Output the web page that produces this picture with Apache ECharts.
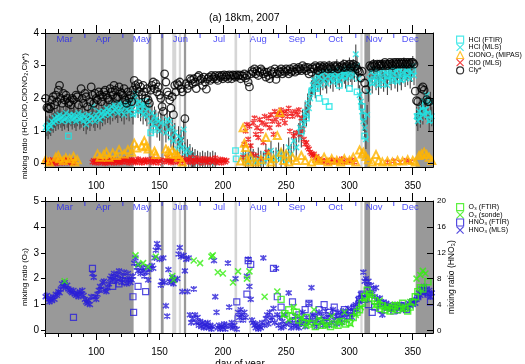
<!DOCTYPE html>
<html><head><meta charset="utf-8">
<script src="https://cdn.jsdelivr.net/npm/echarts@6/dist/echarts.min.js"></script>
<style>html,body{margin:0;padding:0;background:#fff}#c{width:525px;height:364px}</style>
</head><body><div id="c"></div>
<script>
// ---------- axis / annotation data ----------
const monthNames = ['Mar','Apr','May','Jun','Jul','Aug','Sep','Oct','Nov','Dec'];
const monthStarts = [60,91,121,152,182,213,244,274,305,335];
const monthMids = [75,105.5,136,166.5,197,228,258.5,289,319.5,348];
const xMinorTicks = [60,70,80,90,100,110,120,130,140,150,160,170,180,190,200,210,220,230,240,250,260,270,280,290,300,310,320,330,340,350,360];
const xMajorTicks = [100,150,200,250,300,350];
const yTopTicks = [0,1,2,3,4];
const yBotTicks = [0,1,2,3,4,5];
const yHno3Ticks = [0,4,8,12,16,20];
const darkShade = [[59.5,129.5],[141.3,143.5],[151,153.2],[169.2,171],[311.8,316.3],[352.3,366]];
const lightShade = [[160,163.2],[165.2,167],[209.2,211.3],[221,222.2],[308.6,310.4]];
const axisTitles = {top: 'mixing ratio (HCl,ClO,ClONO₂,Cly*)', o3: 'mixing ratio (O₃)', hno3: 'mixing ratio (HNO₃)', x: 'day of year'};

// ---------- top panel data (ppbv) ----------
const clyStar = [[60,2.0],[61,1.72],[62,1.7],[63,1.68],[64,1.75],[65,1.95],[66,2.05],[67,1.8],[68,2.1],[69,1.9],[70,2.25],[71,2.4],[72,2.0],[73,1.85],[74,2.15],[75,1.95],[76,2.1],[77,2.0],[78,1.85],[79,1.9],[80,1.8],[81,2.0],[82,1.95],[84,2.1],[85,2.05],[86,1.8],[88,2.3],[89,2.0],[90,1.85],[91,2.15],[92,2.05],[93,1.75],[95,1.9],[96,2.35],[97,2.1],[98,1.85],[99,2.15],[100,2.0],[101,1.95],[102,2.2],[103,2.1],[104,1.9],[105,2.05],[106,2.2],[107,2.25],[108,2.1],[109,2.0],[110,1.95],[111,2.3],[112,2.2],[113,2.1],[114,2.4],[115,2.25],[116,2.0],[117,2.05],[118,2.35],[119,2.2],[120,2.15],[121,2.1],[122,2.3],[123,1.95],[124,1.85],[125,2.2],[126,2.0],[127,2.1],[128,1.9],[129,2.25],
[130,2.55],[131,2.4],[132,2.3],[133,2.45],[134,2.2],[135,2.35],[136,2.1],[137,2.4],[138,2.2],[139,2.0],[140,2.3],[141,1.95],[142,1.85],[143,2.25],[144,2.4],[145,2.5],[146,2.3],[147,2.45],[148,2.2],[149,2.35],[150,2.1],[151,2.0],[152,1.75],[153,1.6],[154,2.75],[155,2.5],[156,2.2],[157,2.1],[158,1.95],[159,1.7],[160,2.05],[161,1.5],[162,2.4],[163,2.2],[164,2.45],[165,2.4],[166,2.5],[167,2.3],[168,2.2],[170,1.38],[171,2.45],[172,2.3],[173,2.4],[174,2.6],[175,2.55],
[176,2.45],[177,2.6],[178,2.5],[179,2.3],[180,2.65],[181,2.7],[182,2.55],[183,2.6],[184,2.4],[185,2.65],[186,2.5],[187,2.28],[188,2.6],[189,2.65],[190,2.55],[191,2.7],[192,2.6],[193,2.65],[194,2.7],[195,2.6],[196,2.55],[197,2.7],[198,2.65],[199,2.7],[200,2.6],[201,2.72],[202,2.65],[203,2.7],[204,2.6],[205,2.72],[206,2.68],[207,2.6],[208,2.72],[209,2.7],[210,2.65],[211,2.72],[212,2.68],[213,2.72],[214,2.6],[215,2.7],[216,2.68],[217,2.75],[218,2.62],[219,2.7],[220,2.5],[221,2.35],
[222,2.75],[223,2.85],[224,2.8],[225,2.9],[226,2.75],[227,2.85],[228,2.7],[229,2.8],[230,2.9],[231,2.85],[232,2.75],[233,2.8],[234,2.65],[235,2.8],[236,2.7],[237,2.6],[238,2.85],[239,2.75],[240,2.8],[241,2.9],[242,2.58],[243,2.75],[244,2.85],[245,2.8],[246,2.9],[247,2.75],[248,2.85],[249,2.8],[250,2.9],[251,2.85],[252,2.75],[253,2.9],[254,2.8],[255,2.85],[256,2.95],[257,2.8],[258,2.9],[259,2.85],[260,2.95],[261,2.9],[262,2.85],[263,3.0],[264,2.9],[265,2.95],[266,2.85],[267,2.95],[268,2.75],[269,2.9],[270,2.8],[271,2.95],[272,2.9],[273,3.0],[274,2.95],[275,2.85],[276,2.95],[277,3.0],[278,2.9],[279,2.95],[280,3.0],[282,2.95],[283,2.9],[284,3.0],[285,2.95],[286,2.9],[288,3.0],[289,2.95],[290,3.0],[291,2.9],[292,2.95],[294,3.0],[295,2.95],[296,3.05],[297,2.95],[298,3.0],[300,3.05],[301,2.95],[302,3.0],[303,3.05],[304,2.95],[305,3.0],[306,2.9],[307,2.85],[308,2.8],[309,2.62],[310,2.83],[312,2.47],[313,2.27],
[316,3.0],[317,2.95],[318,3.0],[319,3.05],[320,3.0],[321,2.95],[322,3.05],[323,3.0],[324,3.05],[325,3.0],[326,3.05],[327,3.0],[328,3.1],[329,3.05],[330,3.0],[331,3.05],[332,3.1],[333,3.05],[334,3.0],[335,3.1],[336,3.05],[337,3.1],[338,3.05],[339,3.1],[340,3.05],[341,3.1],[342,3.05],[343,3.1],[344,3.05],[345,3.1],[346,3.05],[347,3.1],[348,3.05],[349,3.1],[350,3.1],[351,3.05],[352,2.22],[353,1.93],[354,1.9],[357,2.3],[358,2.35],[359,2.25],[361,1.96],[362,1.9],[363,1.9]];

const hclMls = [[60,1.1],[61,1.15],[62,1.05],[63,1.2],[64,1.15],[65,1.3],[66,1.25],[67,1.4],[68,1.3],[69,1.45],[70,1.35],[71,1.5],[72,1.4],[73,1.3],[74,1.45],[75,1.35],[76,1.55],[77,1.4],[78,1.3],[79,1.5],[80,1.45],[81,1.35],[82,1.5],[83,1.4],[84,1.3],[85,1.45],[86,1.55],[87,1.35],[88,1.4],[89,1.5],[90,1.3],[91,1.45],[92,1.2],[93,1.35],[94,1.5],[95,1.3],[96,1.45],[97,1.75],[98,1.4],[99,1.3],[100,1.5],[101,1.4],[102,1.6],[103,1.35],[104,1.55],[105,1.45],[106,1.6],[107,1.5],[108,1.7],[109,1.55],[110,1.65],[111,1.5],[112,1.75],[113,1.6],[114,1.8],[115,1.65],[116,1.7],[117,1.55],[118,1.85],[119,1.7],[120,1.6],[121,1.8],[122,1.5],[123,1.75],[124,1.65],[125,1.9],[126,1.6],[127,1.8],[128,1.7],[129,1.5],
[130,2.0],[131,2.15],[132,1.85],[133,1.7],[134,1.9],[135,1.6],[136,1.8],[137,1.5],[138,1.75],[139,1.6],[140,1.45],[141,1.7],[143,1.3],[144,1.55],[145,1.2],[146,1.45],[147,1.35],[148,1.1],[149,1.3],[150,1.0],[151,1.25],[154,1.2],[155,0.95],[156,1.35],[157,1.05],[158,1.3],[159,0.8],[160,1.1],[161,0.7],[162,0.95],[164,0.45],[165,0.85],[166,0.6],[167,0.75],[168,0.5],[169,1.05],[170,0.35],[172,0.45],[173,0.2],[174,0.3],[175,0.1],[176,0.2],[177,0.05],[178,0.15],[180,0.1],[182,0.05],[184,0.1],[186,0.05],[188,0.1],[190,0.05],[192,0.1],[194,0.05],
[216,0.25],[218,0.1],[220,0.05],[222,0.3],[224,0.15],[226,0.05],[228,0.2],[230,0.1],[232,0.05],[234,0.3],[236,0.15],[238,0.4],[240,0.1],[242,0.2],[244,0.35],[246,0.15],[248,0.3],[250,0.1],
[252,0.5],[254,0.3],[256,0.7],[258,0.5],[260,0.95],[261,1.1],[262,0.8],[263,1.35],[264,1.2],[265,1.6],[266,1.45],[267,1.85],[268,1.7],[269,2.0],[270,2.25],[271,2.4],[272,2.55],[273,2.3],[274,2.7],[275,2.5],[276,2.65],[277,2.4],[278,2.75],[279,2.55],[280,2.8],[281,2.6],[282,2.45],[283,2.7],[284,2.85],[285,2.6],[286,2.75],[287,2.5],[288,2.8],[289,2.65],[290,2.9],[291,2.7],[292,2.55],[293,2.8],[294,2.65],[295,2.9],[296,2.75],[297,2.6],[298,2.85],[299,2.7],[300,2.95],[301,2.8],[302,2.65],[303,2.9],[304,2.8],[305,3.35],[306,3.0],[307,2.6],[308,2.1],[309,1.9],[310,1.6],[311,1.3],[312,1.1],[313,0.75],[314,1.5],[315,2.2],
[316,2.6],[317,2.8],[318,2.45],[319,2.9],[320,2.7],[321,2.55],[322,2.85],[323,2.4],[324,2.75],[325,2.6],[326,2.9],[327,2.5],[328,2.8],[329,2.65],[330,2.4],[331,2.85],[332,2.7],[333,2.55],[334,2.9],[335,2.75],[336,2.6],[337,2.85],[338,2.5],[339,2.9],[340,2.7],[341,2.55],[342,2.8],[343,2.95],[344,2.65],[345,2.85],[346,2.7],[347,2.9],[348,2.6],[349,2.8],[350,3.0],[351,2.7],
[353,1.45],[354,1.3],[355,1.6],[356,1.4],[357,1.7],[358,1.5],[359,1.9],[360,1.65],[361,2.1],[362,1.55],[363,1.3],[364,1.9],[365,1.45]];
const hclMlsErr = 0.3;

const hclFtir = [[78,0.85],[129,1.55],[134,1.65],[139,1.9],[143,0.95],[145,1.05],[210,0.4],[210.5,0.15],[262,1.0],[266,1.4],[270,2.2],[274,2.3],[276,2.0],[281,1.9],[284,1.75],[288,2.6],[292,2.4],[296,2.7],[300,2.3],[306,2.2],[310,1.75],[311,1.45],[312,0.85],[318,2.5],[322,2.65],[326,2.45],[330,2.7],[334,2.55],[338,2.8],[342,2.6],[346,2.75],[350,2.85],[354,1.45],[358,1.6],[360,1.8],[362,1.5],[364,1.35]];

const clono2Mipas = [[60,0.12],[63,0.05],[68,0.2],[70,0.25],[71,0.15],[74,0.1],[76,0.18],[79,0.15],[82,0.22],[83,0.05],[85,0.12],[101,0.3],[103,0.2],[106,0.28],[108,0.35],[110,0.2],[113,0.33],[116,0.25],[118,0.43],[122,0.3],[125,0.43],[128,0.35],[130,0.63],[132,0.48],[136,0.55],[138,0.7],[139,0.52],[141,0.45],[146,0.38],[147,0.28],[155,0.45],[157,0.38],[158,0.3],[160,0.4],[162,0.3],[164,0.28],[165,0.2],[168,0.05],[214,0.08],[216,1.1],[217,0.63],[218,0.5],[219,0.15],[220,0.05],[222,0.2],[226,0.05],[230,0.12],[234,0.8],[236,0.25],[238,0.05],[240,0.15],[243,0.86],[245,1.57],[246,0.35],[248,0.1],[250,0.3],[252,0.05],[255,0.2],[258,0.1],[262,0.25],[265,0.1],[270,0.05],[274,0.15],[276,0.1],[280,0.2],[283,0.05],[286,0.15],[290,0.1],[293,0.05],[296,0.15],[300,0.1],[303,0.2],[305,0.05],[308,0.42],[310,0.3],[311,0.35],[313,0.22],[315,0.12],[318,0.05],[321,0.28],[323,0.1],[326,0.05],[330,0.08],[334,0.05],[338,0.1],[342,0.08],[346,0.12],[350,0.1],[352,0.05],[355,0.25],[357,0.3],[359,0.35],[361,0.28],[363,0.2],[365,0.1]];

const cloMls = [[60,0.05],[61,0.1],[62,0.02],[63,0.08],[64,0.12],[65,0.03],[66,0.07],[67,0.1],[68,0.0],[69,0.06],[70,0.12],[71,0.04],[72,0.09],[73,0.02],[74,0.1],[75,0.05],[76,0.13],[77,0.03],[78,0.08],[79,0.05],[80,0.11],[81,0.02],[82,0.07],[83,0.04],
[97,0.05],[98,0.1],[99,0.03],[100,0.08],[101,0.12],[102,0.02],[103,0.07],[104,0.1],[105,0.04],[106,0.09],[107,0.01],[108,0.06],[109,0.11],[110,0.03],[111,0.08],[112,0.05],[113,0.12],[114,0.02],[115,0.09],[116,0.06],[117,0.1],[118,0.03],[119,0.07],[120,0.12],[121,0.04],[122,0.09],[123,0.15],[124,0.05],[125,0.1],[126,0.02],[127,0.08],[128,0.13],[129,0.06],[130,0.1],[131,0.03],[132,0.08],[133,0.15],[134,0.05],[135,0.11],[136,0.02],[137,0.09],[138,0.06],[139,0.13],[140,0.04],[141,0.1],[143,0.07],[144,0.15],[145,0.03],[146,0.1],[147,0.06],[148,0.14],[149,0.02],[150,0.08],[151,0.12],[154,0.05],[155,0.1],[156,0.2],[157,0.07],[158,0.13],[159,0.03],[160,0.1],[161,0.06],[162,0.16],[164,0.04],[165,0.11],[166,0.08],[167,0.17],[168,0.02],[169,0.1],[171,0.12],[172,0.05],[173,0.15],[174,0.08],[175,0.2],[176,0.03],[177,0.12],[178,0.07],[179,0.18],[180,0.05],[181,0.1],[182,0.14],[183,0.02],[184,0.09],[185,0.16],[186,0.06],[187,0.12],[188,0.03],[189,0.1],[190,0.15],[191,0.05],[192,0.11],[193,0.08],[194,0.18],[195,0.03],[196,0.1],[197,0.06],[198,0.14],[199,0.02],[200,0.09],[201,0.12],[202,0.05],[203,0.1],
[216,0.2],[217,0.6],[218,1.0],[219,1.2],[220,0.75],[221,1.15],[222,0.55],[223,0.3],[224,1.25],[225,1.4],[226,0.9],[227,1.1],[228,0.8],[229,1.35],[230,1.0],[231,1.25],[232,0.65],[233,1.45],[234,1.2],[235,0.35],[236,1.4],[237,1.1],[238,1.5],[239,1.3],[240,0.9],[241,1.6],[242,1.35],[243,1.5],[244,1.2],[245,1.55],[246,1.65],[247,1.4],[248,1.55],[249,1.25],[250,1.6],[251,1.45],[252,1.7],[253,1.0],[254,1.55],[255,1.45],[256,0.85],[257,1.6],[258,0.95],[259,1.5],[260,1.65],[261,0.9],[262,1.4],[263,1.05],[264,0.75],[265,0.6],[266,0.65],[267,0.5],[268,0.45],[269,0.35],[270,0.3],[271,0.25],[272,0.3],[273,0.18],[274,0.22],[275,0.12],[276,0.15],[277,0.08],[278,0.1],[280,0.05],[282,0.1],[284,0.03],[286,0.12],[288,0.05],[290,0.1],[292,0.06],[294,0.15],[296,0.04],[298,0.1],[300,0.08],[302,0.12],[304,0.05],[226,0.25],[230,0.15],[330,0.05],[335,0.08],[340,0.04],[345,0.1],[348,0.06]];

// ---------- bottom panel data ----------
// O3 in ppmv (left axis), HNO3 in ppbv (right axis)
const hno3Mls = [[60,5.2],[61,5.4],[62,4.8],[63,4.4],[64,5.0],[65,4.6],[66,5.2],[67,4.8],[68,5.6],[69,5.4],[70,6.0],[71,5.8],[72,6.4],[73,7.2],[74,6.8],[75,7.4],[76,6.6],[77,7.0],[78,6.4],[79,6.2],[80,6.0],[81,5.8],[82,6.2],[83,5.6],[84,5.4],[85,5.8],[86,5.2],[87,6.0],[88,5.6],[89,6.2],[90,5.4],[91,4.8],[92,4.4],[93,4.2],[94,4.6],[95,4.0],[96,5.2],[97,8.8],[98,8.2],[99,5.2],[100,4.8],[101,5.6],[102,6.2],[103,6.8],[104,6.4],[105,7.4],[106,7.6],[107,6.2],[108,6.0],[109,6.6],[110,7.2],[111,8.0],[112,8.4],[113,7.8],[114,8.8],[115,8.2],[116,7.6],[117,8.6],[118,9.2],[119,8.0],[120,7.4],[121,8.4],[122,9.0],[123,7.8],[124,7.2],[125,8.8],[126,8.0],[127,7.4],[128,7.8],[129,8.4],
[130,10.4],[131,11.2],[132,9.8],[133,9.2],[134,10.2],[135,8.8],[136,9.6],[137,9.2],[138,8.4],[139,9.8],[140,9.0],[141,7.8],[142,9.4],[144,10.0],[145,9.6],[146,11.2],[147,12.4],[148,13.4],[149,12.8],[150,11.0],[151,7.0],[152,7.6],[153,11.2],[154,7.4],[155,3.8],[156,2.2],[157,9.4],[158,7.6],[159,7.4],[160,8.2],[161,7.2],[162,7.8],[164,8.0],[165,11.8],[166,12.8],[167,11.4],[168,6.0],[169,11.6],[170,9.2],[171,11.0],[172,6.0],[173,11.2],[174,2.4],[175,1.2],[176,1.8],[177,6.4],[178,2.4],[179,1.2],[180,2.0],[181,0.8],[182,1.4],[183,0.6],[184,1.2],[185,0.4],[186,1.0],[187,0.6],[188,1.2],[189,0.4],[190,0.8],[191,0.2],[192,0.6],[193,10.8],[194,5.2],[195,2.8],[196,0.4],[197,0.8],[198,0.2],[199,0.6],[200,0.4],[201,1.0],[202,0.2],[203,0.8],[204,10.4],[205,3.6],[206,0.6],[207,1.2],[208,0.4],[209,0.8],[210,8.0],[211,0.2],[212,2.8],[213,2.0],[214,3.2],[215,2.4],[216,1.6],[217,2.8],[218,2.0],[219,8.4],[220,11.0],[221,6.8],[222,4.8],[223,1.6],[224,1.2],[225,0.8],[226,0.4],[227,1.0],[228,0.2],[229,0.6],[230,0.4],[231,1.2],[232,11.2],[233,0.8],[234,1.8],[235,2.4],[236,1.0],[237,2.8],[238,1.6],[239,2.0],[240,3.4],[241,1.2],[242,9.6],[243,2.4],[244,0.8],[245,2.0],[246,0.4],[247,1.4],[248,0.6],[249,2.4],[250,1.0],[252,5.8],[253,1.2],[254,0.4],[255,1.6],[256,0.8],[257,2.2],[258,0.6],[259,1.2],[260,0.4],[261,1.8],[262,1.0],[263,2.8],[264,1.4],[265,0.6],[266,2.0],[267,1.2],[268,4.2],[269,1.6],[270,6.6],[271,2.4],[272,1.0],[273,2.0],[274,0.6],[275,1.6],[276,2.8],[277,1.2],[278,2.2],[279,0.8],[280,1.8],[281,3.0],[282,1.4],[283,2.0],[284,0.8],[285,2.4],[286,1.2],[287,3.2],[288,1.6],[289,2.2],[290,1.0],[291,2.8],[292,1.8],[293,2.4],[294,1.2],[295,3.0],[296,2.0],[297,2.6],[298,1.6],[299,3.4],[300,2.4],[301,3.0],[302,2.0],[303,3.6],[304,2.8],[305,4.0],[306,3.2],[307,4.8],[308,4.4],[309,5.6],[310,5.2],[311,9.0],[312,7.6],[313,8.0],[314,6.8],[315,7.6],[316,6.0],[317,7.0],[318,5.6],[319,6.4],[320,5.2],[321,6.6],[322,4.8],[323,4.4],[324,5.0],[325,4.0],[326,2.4],[327,4.4],[328,3.6],[329,4.2],[330,3.4],[331,4.0],[332,3.6],[333,3.2],[334,3.8],[335,3.4],[336,4.0],[337,3.6],[338,3.0],[339,3.8],[340,3.4],[341,4.0],[342,3.6],[343,3.2],[344,4.0],[345,3.6],[346,3.4],[347,4.2],[348,3.8],[349,4.4],[350,4.0],[351,4.6],[352,4.2],[353,4.8],[354,5.2],[355,5.8],[356,5.4],[357,6.4],[358,6.0],[359,6.8],[360,5.8],[361,6.4],[362,5.6],[363,6.2],[364,5.2],[365,5.8]];

const hno3Ftir = [[82,2.0],[97,9.6],[113,6.8],[118,7.2],[123,7.6],[129,5.2],[129.5,2.8],[133,6.8],[139,6.0],[211,4.4],[212,1.8],[219,5.6],[220,10.8],[222,10.2],[240,9.6],[243,5.2],[246,3.6],[255,4.4],[260,2.4],[265,3.2],[268,4.2],[272,2.0],[276,3.2],[280,4.0],[284,2.8],[288,3.6],[292,2.4],[296,3.2],[300,2.8],[304,3.6],[308,4.8],[310,5.6],[312,4.8],[315,4.0],[318,2.8],[320,3.6],[325,3.2],[330,3.6],[335,3.0],[340,3.8],[345,3.2],[350,4.4],[354,5.2],[358,6.0],[362,5.6],[364,4.4]];

const o3Ftir = [[246,1.2],[249,0.65],[252,0.8],[255,0.55],[258,0.7],[260,0.4],[263,0.3],[266,0.5],[270,0.25],[273,0.15],[276,0.35],[279,0.2],[282,0.3],[285,0.15],[288,0.25],[291,0.2],[294,0.35],[297,0.25],[300,0.3],[303,0.5],[306,0.7],[308,0.8],[310,1.05],[312,1.3],[314,1.55],[316,1.4],[318,1.25],[320,1.15],[322,1.0],[324,0.85],[326,0.95],[328,0.8],[330,0.9],[332,0.75],[334,0.85],[336,0.95],[338,0.8],[340,0.9],[342,1.05],[344,0.85],[346,0.75],[348,0.9],[350,1.1],[352,1.3],[354,1.5],[356,1.65],[358,1.6],[362,1.88]];

const o3Sonde = [[75,1.9],[131,2.9],[133,2.55],[137,2.6],[141,2.45],[147,2.85],[160,2.1],[161,1.95],[177,2.7],[182,2.6],[191,2.85],[192,2.9],[196,2.25],[200,2.2],[208,1.85],[212,2.28],[219,2.0],[221,2.28],[233,1.3],[243,1.5],[248,0.6],[252,0.4],[256,0.9],[262,0.5],[266,0.17],[268,0.3],[272,0.8],[276,0.45],[281,0.2],[286,0.55],[292,0.35],[296,0.7],[301,0.25],[305,0.6],[309,0.9],[312,1.2],[316,1.35],[320,0.95],[324,1.15],[330,0.9],[336,1.0],[342,0.85],[348,1.1],[353,2.0],[356,2.14],[358,2.3],[360,2.2]];

// ---------- chart ----------
const FONT = 'Liberation Sans, Arial, Helvetica, sans-serif';
const MONTH_BLUE = '#1f1ff5';
const CYAN = '#1fe3e3', RED = '#f01010', ORANGE = '#ffb400', BLACK = '#000000';
const BLUE = '#2a1fd8', GREEN = '#35ee10';
const XSYM = 'path://M0,0L10,10M10,0L0,10';
const STAR = 'path://M0,0L10,10M10,0L0,10M5,-1.5L5,11.5';
const X_MIN = 59.5, X_MAX = 366;

function xAx(grid, pos, ticks, len, labels) {
  return {
    type: 'value', gridIndex: grid, position: pos, min: X_MIN, max: X_MAX, z: 5,
    axisLine: {show: true, onZero: false, lineStyle: {color: '#000', width: 1}},
    axisTick: {show: true, inside: false, length: len, customValues: ticks, lineStyle: {color: '#000', width: 1}},
    axisLabel: labels ? {show: true, customValues: labels, fontSize: 10, color: '#000', fontFamily: FONT, margin: 14} : {show: false},
    splitLine: {show: false}
  };
}

function shadeSeries(xi, yi) {
  const areas = darkShade.map(r => [{xAxis: r[0], itemStyle: {color: '#999999'}}, {xAxis: r[1]}])
    .concat(lightShade.map(r => [{xAxis: r[0], itemStyle: {color: '#d6d6d6'}}, {xAxis: r[1]}]));
  return {type: 'scatter', xAxisIndex: xi, yAxisIndex: yi, data: [], z: 1, silent: true,
    markArea: {silent: true, data: areas, label: {show: false}}};
}
function monthTickSeries(xi, yi, ytop) {
  return {type: 'scatter', xAxisIndex: xi, yAxisIndex: yi, silent: true, z: 3, clip: false,
    symbol: 'rect', symbolSize: [1, 5], symbolOffset: [0, 2.5],
    itemStyle: {color: MONTH_BLUE},
    data: monthStarts.map(d => [d, ytop])};
}
function monthLabelSeries(xi, yi, ytop) {
  return {type: 'scatter', xAxisIndex: xi, yAxisIndex: yi, silent: true, z: 3, symbolSize: 0,
    data: monthNames.map((n, i) => ({name: n, value: [monthMids[i], ytop]})),
    label: {show: true, position: 'bottom', distance: 1.5, formatter: '{b}', color: MONTH_BLUE, fontSize: 9.5, fontFamily: FONT}};
}
function errSeries(data, err, xi, yi, color) {
  return {type: 'custom', xAxisIndex: xi, yAxisIndex: yi, data: data, clip: true, silent: true, z: 2,
    renderItem: function (params, api) {
      const x = api.value(0), y = api.value(1);
      const a = api.coord([x, y - err]), b = api.coord([x, y + err]);
      return {type: 'line', shape: {x1: a[0], y1: a[1], x2: b[0], y2: b[1]}, style: {stroke: color, lineWidth: 1.1}};
    }};
}
function pts(name, data, xi, yi, symbol, size, color, bw) {
  return {name: name, type: 'scatter', xAxisIndex: xi, yAxisIndex: yi, data: data, symbol: symbol, symbolSize: size,
    itemStyle: {color: 'rgba(0,0,0,0)', borderColor: color, borderWidth: bw || 1}, z: 2};
}
function vText(text, x, y, size) {
  return {type: 'text', x: x, y: y, rotation: Math.PI / 2, silent: true, z: 10,
    style: {text: text, fontSize: size, fontFamily: FONT, fill: '#000', align: 'center', verticalAlign: 'middle'}};
}

const option = {
  animation: false,
  backgroundColor: '#fff',
  textStyle: {fontFamily: FONT},
  title: {text: '(a) 18km, 2007', left: 209, top: 13, padding: 0,
    textStyle: {fontSize: 10.5, fontWeight: 'normal', color: '#000', fontFamily: FONT}},
  graphic: [
    vText(axisTitles.top, 25, 116, 8),
    vText(axisTitles.o3, 25, 277, 8),
    vText(axisTitles.hno3, 452, 277, 8.5),
    {type: 'text', x: 240, y: 364, silent: true, z: 10,
     style: {text: axisTitles.x, fontSize: 10, fontFamily: FONT, fill: '#000', align: 'center', verticalAlign: 'middle'}}
  ],
  grid: [
    {left: 45, width: 388, top: 33, height: 134},
    {left: 45, width: 388, top: 201, height: 132}
  ],
  legend: [
    {orient: 'vertical', left: 456, top: 35.5, padding: 0, itemGap: -0.5, itemWidth: 7, itemHeight: 7,
     itemStyle: {borderWidth: 1.2}, selectedMode: false,
     textStyle: {fontSize: 7, lineHeight: 7, color: '#000', fontFamily: FONT},
     data: [{name: 'HCl (FTIR)'}, {name: 'HCl (MLS)', icon: XSYM}, {name: 'ClONO₂ (MIPAS)'}, {name: 'ClO (MLS)', icon: XSYM}, {name: 'Cly*'}]},
    {orient: 'vertical', left: 456, top: 203, padding: 0, itemGap: -0.5, itemWidth: 7, itemHeight: 7,
     itemStyle: {borderWidth: 1.2}, selectedMode: false,
     textStyle: {fontSize: 7, lineHeight: 7, color: '#000', fontFamily: FONT},
     data: [{name: 'O₃ (FTIR)'}, {name: 'O₃ (sonde)', icon: XSYM}, {name: 'HNO₃ (FTIR)'}, {name: 'HNO₃ (MLS)', icon: XSYM}]}
  ],
  xAxis: [
    xAx(0, 'bottom', xMinorTicks, 4, xMajorTicks),
    xAx(0, 'bottom', xMajorTicks, 8, null),
    xAx(0, 'top', xMinorTicks, 4, null),
    xAx(0, 'top', xMajorTicks, 8, null),
    xAx(1, 'bottom', xMinorTicks, 4, xMajorTicks),
    xAx(1, 'bottom', xMajorTicks, 7, null),
    xAx(1, 'top', xMinorTicks, 4, null),
    xAx(1, 'top', xMajorTicks, 8, null)
  ],
  yAxis: [
    {type: 'value', gridIndex: 0, position: 'left', min: -0.1, max: 4, z: 5,
     axisLine: {show: true, onZero: false, lineStyle: {color: '#000'}},
     axisTick: {show: true, inside: false, length: 4, customValues: yTopTicks, lineStyle: {color: '#000'}},
     axisLabel: {show: true, customValues: yTopTicks, fontSize: 10, color: '#000', fontFamily: FONT, margin: 6},
     splitLine: {show: false}},
    {type: 'value', gridIndex: 0, position: 'right', min: -0.1, max: 4, z: 5,
     axisLine: {show: true, onZero: false, lineStyle: {color: '#000'}},
     axisTick: {show: true, inside: true, length: 5, customValues: yTopTicks, lineStyle: {color: '#000'}},
     axisLabel: {show: false}, splitLine: {show: false}},
    {type: 'value', gridIndex: 1, position: 'left', min: -0.1, max: 5, z: 5,
     axisLine: {show: true, onZero: false, lineStyle: {color: '#000'}},
     axisTick: {show: true, inside: false, length: 4, customValues: yBotTicks, lineStyle: {color: '#000'}},
     axisLabel: {show: true, customValues: yBotTicks, fontSize: 10, color: '#000', fontFamily: FONT, margin: 6},
     splitLine: {show: false}},
    {type: 'value', gridIndex: 1, position: 'right', min: -0.4, max: 20, z: 5,
     axisLine: {show: true, onZero: false, lineStyle: {color: '#000'}},
     axisTick: {show: true, inside: true, length: 6, customValues: yHno3Ticks, lineStyle: {color: '#000'}},
     axisLabel: {show: true, customValues: yHno3Ticks, fontSize: 8, color: '#000', fontFamily: FONT, margin: 4},
     splitLine: {show: false}}
  ],
  series: [
    shadeSeries(0, 0),
    monthTickSeries(0, 0, 4),
    monthLabelSeries(0, 0, 4),
    errSeries(hclMls, hclMlsErr, 0, 0, '#454545'),
    pts('HCl (MLS)', hclMls, 0, 0, XSYM, 5.5, CYAN, 1.5),
    pts('ClO (MLS)', cloMls, 0, 0, STAR, 5.5, RED, 1.4),
    pts('HCl (FTIR)', hclFtir, 0, 0, 'rect', 5.5, CYAN, 1.4),
    pts('ClONO₂ (MIPAS)', clono2Mipas, 0, 0, 'triangle', 7, ORANGE, 2),
    pts('Cly*', clyStar, 0, 0, 'circle', 7.5, BLACK, 1.3),

    shadeSeries(4, 2),
    monthTickSeries(4, 2, 5),
    monthLabelSeries(4, 2, 5),
    pts('HNO₃ (MLS)', hno3Mls, 4, 3, STAR, 6, BLUE, 1.5),
    pts('HNO₃ (FTIR)', hno3Ftir, 4, 3, 'rect', 6, BLUE, 1.2),
    pts('O₃ (FTIR)', o3Ftir, 4, 2, 'rect', 6, GREEN, 1.4),
    pts('O₃ (sonde)', o3Sonde, 4, 2, XSYM, 6, GREEN, 1.5)
  ]
};

const chart = echarts.init(document.getElementById('c'), null, {renderer: 'canvas', width: 525, height: 364});
chart.setOption(option);
</script>
</body></html>
